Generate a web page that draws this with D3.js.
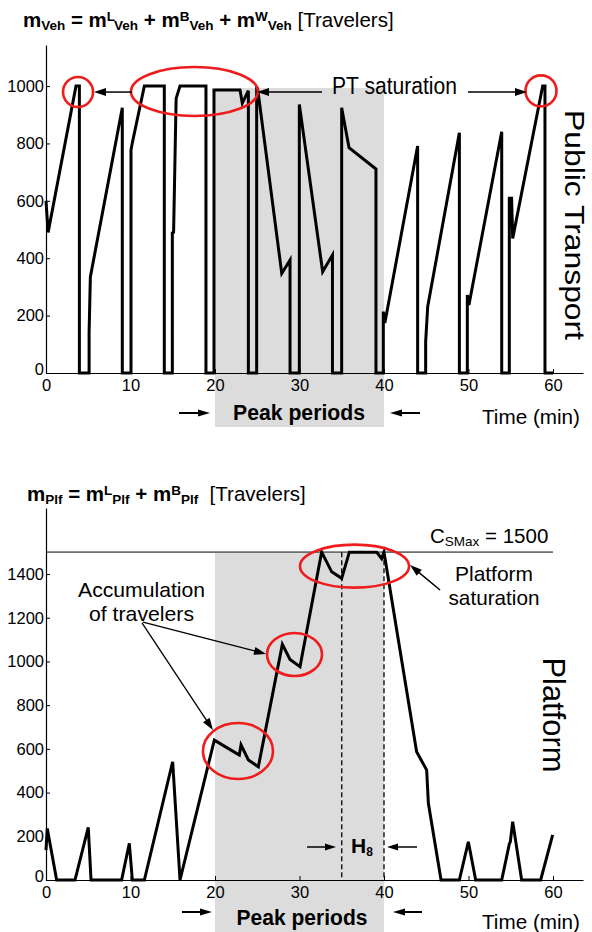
<!DOCTYPE html>
<html><head><meta charset="utf-8">
<script src="https://cdn.jsdelivr.net/npm/d3@7"></script>
<style>body{margin:0;background:#fff}svg{display:block}text{font-family:"Liberation Sans",Arial,Helvetica,sans-serif}</style>
</head><body>
<script>
// ---------- data ----------
const xTicks = [0, 10, 20, 30, 40, 50, 60];
const yTicksVeh = [0, 200, 400, 600, 800, 1000];
const yTicksPlf = [0, 200, 400, 600, 800, 1000, 1200, 1400];
const peakPeriod = [20, 40];
const capacityPlf = 1500;
const h8Window = [35, 40];

const tVeh = [0,0.25,3.55,3.95,3.95,5.1,5.1,5.25,9.03,9.03,10.06,10.06,10.2,11.64,14.0,14.0,14.95,14.95,15.1,15.4,15.86,18.93,18.93,19.88,19.88,22.96,23.23,23.95,23.95,24.93,24.93,25.05,27.9,28.88,28.88,29.98,29.98,32.74,33.9,33.9,34.99,34.99,35.86,39.05,39.05,39.92,39.92,40.1,43.98,43.98,44.93,44.93,45.17,48.92,48.92,49.86,49.86,50.05,53.93,53.93,54.83,54.83,55.1,55.23,58.78,59.05,59.05,60];
const mVeh = [600,490,1000,1000,0,0,140,335,924,0,0,777,800,1000,1000,0,0,488,490,957,1000,1000,0,0,986,986,940,984,0,0,995,990,347,394,0,0,936,353,411,0,0,924,785,711,0,0,214,174,791,0,0,109,231,837,0,0,272,237,841,0,0,609,609,469,1000,1000,0,0];

const tPlf = [0,0.15,1.26,3.43,5.0,5.33,8.95,9.86,10.22,11.64,14.99,15.86,19.92,22.88,23.08,23.95,25.13,27.97,28.88,30.06,32.62,33.81,34.99,35.9,39.13,39.72,40.0,43.86,45.05,45.25,46.75,48.92,49.98,50.85,53.93,54.83,54.95,55.23,56.29,58.54,59.96];
const mPlf = [137,236,0,0,241,0,0,168,0,0,541,0,640,572,618,549,518,1078,1009,976,1500,1410,1380,1500,1500,1470,1500,587,503,351,0,0,175,0,0,165,175,267,0,0,206];

// ---------- setup ----------
const W = 592, H = 932;
const FONT = '"Liberation Sans",Arial,Helvetica,sans-serif';
const svg = d3.select('body').append('svg').attr('width', W).attr('height', H);
svg.append('rect').attr('width', W).attr('height', H).attr('fill', '#fff');

const x = d3.scaleLinear().domain([0, 63.55]).range([46, 583]);
const yV = d3.scaleLinear().domain([0, 1143]).range([373, 45]);
const yP = d3.scaleLinear().domain([0, 1702]).range([880, 508]);

const GRAY = '#dcdcdc';
const RED = '#ee1c1c';

function txt(g, px, py, str, o = {}) {
  const t = g.append('text')
    .attr('transform', `translate(${px},${py})` + (o.rotate ? ` rotate(${o.rotate})` : ''))
    .attr('font-size', o.size || 18)
    .attr('font-weight', o.weight || 'normal')
    .attr('text-anchor', o.anchor || 'start')
    .attr('fill', '#000')
    .text(str);
  if (o.len) t.attr('textLength', o.len).attr('lengthAdjust', 'spacingAndGlyphs');
  return t;
}
function formula(g, px, py, parts, big, small) {
  const t = g.append('text').attr('x', px).attr('y', py).attr('style', 'white-space:pre').attr('fill', '#000');
  let cur = 0;
  parts.forEach(p => {
    const shift = p.sub ? 2.5 : p.sup ? -6.5 : 0;
    t.append('tspan').attr('dy', shift - cur)
      .attr('font-size', (p.sub || p.sup) ? small : big)
      .attr('font-weight', p.b ? 'bold' : 'normal')
      .text(p.t);
    cur = shift;
  });
  return t;
}
function arrow(g, x1, y1, x2, y2, w = 1.5, hl = 12, hw = 8) {
  const dx = x2 - x1, dy = y2 - y1, L = Math.hypot(dx, dy);
  const ux = dx / L, uy = dy / L;
  const bx = x2 - ux * hl, by = y2 - uy * hl;
  g.append('line').attr('x1', x1).attr('y1', y1).attr('x2', bx + ux * 1).attr('y2', by + uy * 1)
    .attr('stroke', '#000').attr('stroke-width', w);
  g.append('path').attr('d', `M${x2},${y2}L${bx - uy * hw / 2},${by + ux * hw / 2}L${bx + uy * hw / 2},${by - ux * hw / 2}Z`)
    .attr('fill', '#000');
}
function ellipse(g, cx, cy, rx, ry) {
  g.append('ellipse').attr('cx', cx).attr('cy', cy).attr('rx', rx).attr('ry', ry)
    .attr('fill', 'none').attr('stroke', RED).attr('stroke-width', 2.6);
}
function axes(g, y, ticks, yBottom) {
  const ax = g.append('g').attr('transform', `translate(0,${yBottom})`)
    .call(d3.axisBottom(x).tickValues(xTicks).tickFormat(d3.format('d')).tickSizeInner(-4).tickSizeOuter(0).tickPadding(6));
  const ay = g.append('g').attr('transform', `translate(46,0)`)
    .call(d3.axisLeft(y).tickValues(ticks).tickFormat(d3.format('d')).tickSizeInner(-4).tickSizeOuter(0).tickPadding(2));
  [ax, ay].forEach(a => {
    a.select('.domain').attr('stroke', '#000').attr('stroke-width', 1.2);
    a.selectAll('.tick line').attr('stroke', '#000');
    a.selectAll('.tick text').attr('font-size', 16.5).attr('font-family', FONT).attr('fill', '#000');
  });
  ay.selectAll('.tick').filter(d => d === 0).select('text').attr('dy', '0.1em');
}

// ================= TOP CHART =================
const gT = svg.append('g');
gT.append('rect').attr('x', x(peakPeriod[0])).attr('y', yV(993))
  .attr('width', x(peakPeriod[1]) - x(peakPeriod[0])).attr('height', 427 - yV(993)).attr('fill', GRAY);

const lineV = d3.line().x((d, i) => x(tVeh[i])).y((d, i) => yV(mVeh[i]));
gT.append('path').attr('d', lineV(mVeh)).attr('fill', 'none').attr('stroke', '#000')
  .attr('stroke-width', 3).attr('stroke-linejoin', 'miter');
axes(gT, yV, yTicksVeh, 373);

// annotations (top)
ellipse(gT, x(3.79), yV(979), 15, 15);
ellipse(gT, x(17.57), yV(981), 63.5, 24.5);
ellipse(gT, x(58.58), yV(983), 15.5, 15.5);
arrow(gT, x(10.18), yV(979), x(5.68), yV(979));
arrow(gT, x(32.66), yV(979), x(24.97), yV(979));
arrow(gT, x(49.94), yV(979), x(56.92), yV(979));
txt(gT, 332, 94, 'PT saturation', { size: 23, len: 125 });
txt(gT, 565, 225, 'Public Transport', { size: 28, anchor: 'middle', rotate: 90, len: 230 });
formula(gT, 23, 27, [
  { t: 'm', b: 1 }, { t: 'Veh', b: 1, sub: 1 }, { t: ' = m', b: 1 }, { t: 'L', b: 1, sup: 1 }, { t: 'Veh', b: 1, sub: 1 },
  { t: ' + m', b: 1 }, { t: 'B', b: 1, sup: 1 }, { t: 'Veh', b: 1, sub: 1 }, { t: ' + m', b: 1 }, { t: 'W', b: 1, sup: 1 },
  { t: 'Veh', b: 1, sub: 1 }, { t: ' [Travelers]' }
], 20.5, 13.5);
arrow(gT, 179, 413, 210, 413, 2, 12, 7);
arrow(gT, 420, 413, 390, 413, 2, 12, 7);
txt(gT, 299, 420, 'Peak periods', { size: 22, weight: 'bold', anchor: 'middle', len: 132 });
txt(gT, 482, 424, 'Time (min)', { size: 20, len: 98 });

// ================= BOTTOM CHART =================
const gB = svg.append('g');
gB.append('rect').attr('x', x(peakPeriod[0])).attr('y', yP(capacityPlf))
  .attr('width', x(peakPeriod[1]) - x(peakPeriod[0])).attr('height', H - yP(capacityPlf)).attr('fill', GRAY);
gB.append('line').attr('x1', x(0)).attr('x2', x(60)).attr('y1', yP(capacityPlf)).attr('y2', yP(capacityPlf))
  .attr('stroke', '#6e6e6e').attr('stroke-width', 1.6);
h8Window.forEach(t => {
  gB.append('line').attr('x1', x(t)).attr('x2', x(t)).attr('y1', yP(capacityPlf)).attr('y2', yP(0))
    .attr('stroke', '#000').attr('stroke-width', 1.3).attr('stroke-dasharray', '5,3');
});
const lineP = d3.line().x((d, i) => x(tPlf[i])).y((d, i) => yP(mPlf[i]));
gB.append('path').attr('d', lineP(mPlf)).attr('fill', 'none').attr('stroke', '#000')
  .attr('stroke-width', 3).attr('stroke-linejoin', 'miter');
axes(gB, yP, yTicksPlf, 880);

ellipse(gB, x(36.51), yP(1436), 54.5, 21.5);
ellipse(gB, x(29.41), yP(1032), 27.5, 21.5);
ellipse(gB, x(22.72), yP(590), 35, 28);
arrow(gB, x(11.48), yP(1180), x(26.04), yP(1034), 1.3, 12, 8);
arrow(gB, x(11.36), yP(1176), x(19.76), yP(686), 1.3, 12, 8);
arrow(gB, x(46.63), yP(1327), x(43.08), yP(1441), 1.5, 12, 8);
arrow(gB, x(30.89), yP(151), x(34.32), yP(151), 1.5, 11, 7);
arrow(gB, x(43.91), yP(151), x(40.36), yP(151), 1.5, 11, 7);

const hT = gB.append('text').attr('x', 351).attr('y', 853).attr('fill', '#000');
hT.append('tspan').attr('font-size', 21).attr('font-weight', 'bold').text('H');
hT.append('tspan').attr('font-size', 12).attr('font-weight', 'bold').attr('dy', 3).text('8');

txt(gB, 141.5, 597, 'Accumulation', { size: 21, anchor: 'middle', len: 127 });
txt(gB, 141.5, 621, 'of travelers', { size: 21, anchor: 'middle', len: 105 });
txt(gB, 494, 581, 'Platform', { size: 21, anchor: 'middle', len: 78 });
txt(gB, 494, 605, 'saturation', { size: 21, anchor: 'middle', len: 91 });
txt(gB, 543, 715, 'Platform', { size: 32, anchor: 'middle', rotate: 90, len: 115 });

formula(gB, 430, 543, [{ t: 'C' }, { t: 'SMax', sub: 1 }, { t: ' = 1500' }], 20.5, 13.5);
formula(gB, 27, 501, [
  { t: 'm', b: 1 }, { t: 'Plf', b: 1, sub: 1 }, { t: ' = m', b: 1 }, { t: 'L', b: 1, sup: 1 }, { t: 'Plf', b: 1, sub: 1 },
  { t: ' + m', b: 1 }, { t: 'B', b: 1, sup: 1 }, { t: 'Plf', b: 1, sub: 1 }, { t: '  [Travelers]' }
], 20.5, 13.5);

arrow(gB, 182, 912, 212, 912, 2, 12, 7);
arrow(gB, 422, 912, 393, 912, 2, 12, 7);
txt(gB, 302, 925, 'Peak periods', { size: 22, weight: 'bold', anchor: 'middle', len: 131 });
txt(gB, 482, 929, 'Time (min)', { size: 20, len: 98 });
</script>
</body></html>
